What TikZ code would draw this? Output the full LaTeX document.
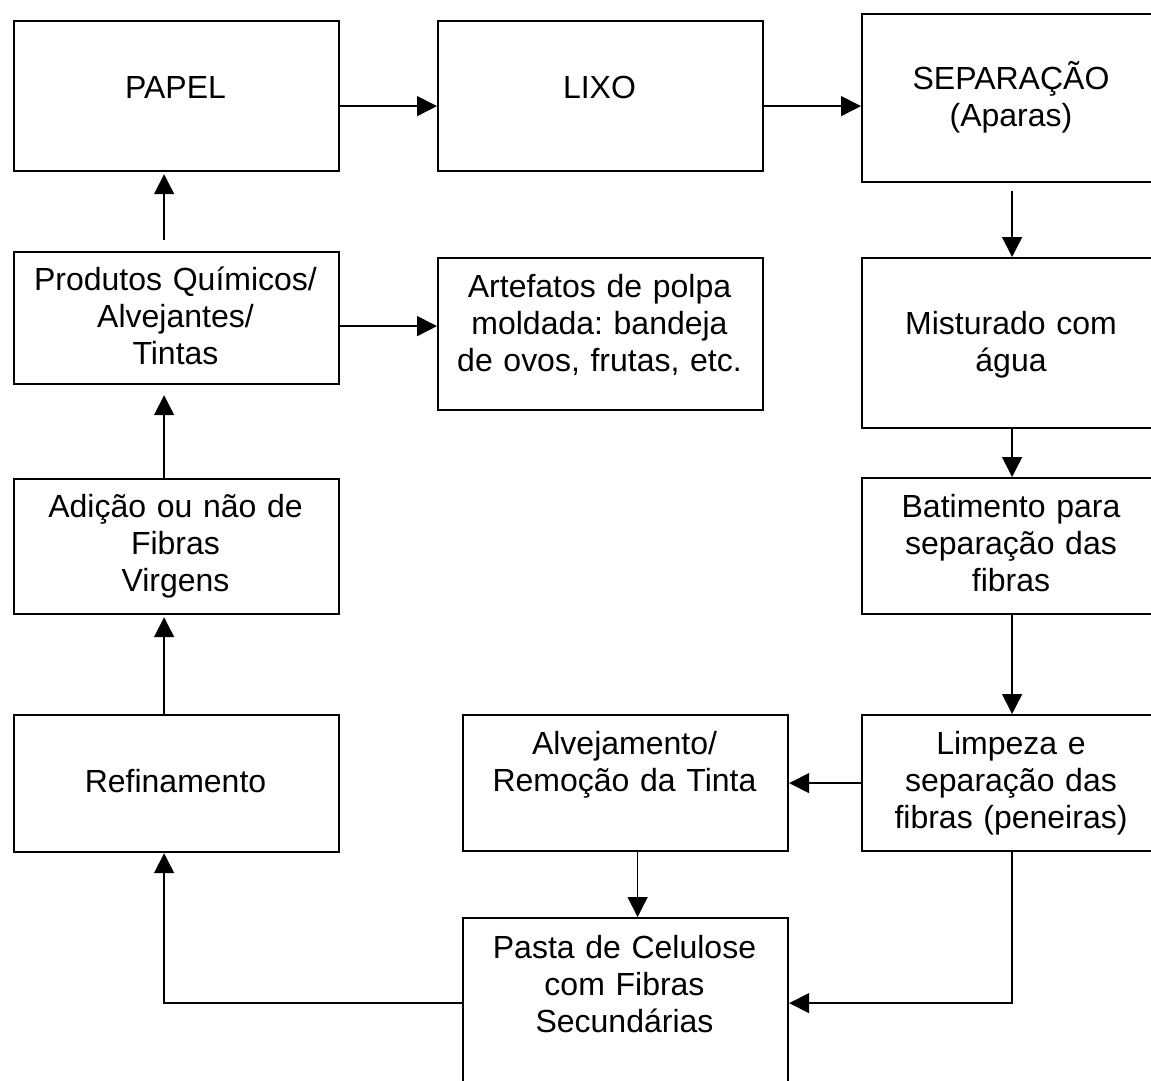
\documentclass[tikz,border=0pt]{standalone}
\usepackage{fontspec}
\setmainfont{Liberation Sans}
\usetikzlibrary{arrows.meta}
\frenchspacing
\begin{document}
\begin{tikzpicture}[x=1pt,y=-1pt,
  box/.style={draw, line width=2.2pt, rectangle, inner sep=0pt, anchor=north west},
  txt/.style={font=\fontsize{32}{37}\selectfont\frenchspacing, align=center, text width=330pt, anchor=base, inner sep=0pt},
  arr/.style={line width=1.5pt, -{Triangle[length=20pt,width=20pt]}}]
\useasboundingbox (0,0) rectangle (1151,1080);
\fill[white] (0,0) rectangle (1151,1080);
\clip (0,0) rectangle (1151,1080);
% boxes
\node[box, minimum width=325, minimum height=150] (papel) at (13,20) {};
\node[box, minimum width=325, minimum height=150] (lixo) at (437,20) {};
\node[box, minimum width=300, minimum height=168] (sep) at (861,13) {};
\node[box, minimum width=325, minimum height=132] (prod) at (13,251) {};
\node[box, minimum width=325, minimum height=152] (art) at (437,257) {};
\node[box, minimum width=300, minimum height=170] (mist) at (861,257) {};
\node[box, minimum width=325, minimum height=135] (adi) at (13,478) {};
\node[box, minimum width=300, minimum height=136] (bat) at (861,477) {};
\node[box, minimum width=325, minimum height=137] (refin) at (13,714) {};
\node[box, minimum width=325, minimum height=136] (alv) at (462,714) {};
\node[box, minimum width=300, minimum height=136] (limp) at (861,714) {};
\node[box, minimum width=325, minimum height=170] (pasta) at (462,917) {};
% texts
\node[txt] (tpapel) at (175.5,98) {PAPEL};
\node[txt] (tlixo) at (599.5,98) {LIXO};
\node[txt] (tsep) at (1011,89) {SEPARAÇÃO\\(Aparas)};
\node[txt] (tprod) at (175.5,290) {Produtos Químicos/\\Alvejantes/\\Tintas};
\node[txt] (tart) at (599.5,297) {Artefatos de polpa\\moldada: bandeja\\de ovos, frutas, etc.};
\node[txt] (tmist) at (1011,334) {Misturado com\\água};
\node[txt] (tadi) at (175.5,517) {Adição ou não de\\Fibras\\Virgens};
\node[txt] (tbat) at (1011,517) {Batimento para\\separação das\\fibras};
\node[txt] (trefin) at (175.5,792) {Refinamento};
\node[txt] (talv) at (624.5,754) {Alvejamento/\\Remoção da Tinta};
\node[txt] (tlimp) at (1011,754) {Limpeza e\\separação das\\fibras (peneiras)};
\node[txt] (tpasta) at (624.5,958) {Pasta de Celulose\\com Fibras\\Secundárias};
% connectors
\draw[arr] ([yshift=-10pt]papel.east) -- ([yshift=-10pt]papel.east -| lixo.west);
\draw[arr] ([yshift=-10pt]lixo.east) -- ([yshift=-10pt]lixo.east -| sep.west);
\draw[arr] ([yshift=-8pt]sep.south) -- (mist.north);
\draw[arr] (mist.south) -- (bat.north);
\draw[arr] (bat.south) -- (limp.north);
\draw[arr] (limp.west) -- (limp.west -| alv.east);
\draw[arr] ([xshift=12pt]alv.south) -- ([xshift=12pt]alv.south |- pasta.north);
\draw[arr] (limp.south) |- (pasta.east);
\draw[arr] (pasta.west) -| ([xshift=-12.5pt]refin.south);
\draw[arr] ([xshift=-12.5pt]refin.north) -- ([xshift=-12.5pt,yshift=-2pt]adi.south);
\draw[arr] ([xshift=-12.5pt]adi.north) -- ([xshift=-12.5pt,yshift=-10pt]prod.south);
\draw[arr] ([xshift=-12.5pt,yshift=11pt]prod.north) -- ([xshift=-12.5pt,yshift=-2pt]papel.south);
\draw[arr] ([yshift=-8pt]prod.east) -- ([yshift=-8pt]prod.east -| art.west);
\end{tikzpicture}
\end{document}
